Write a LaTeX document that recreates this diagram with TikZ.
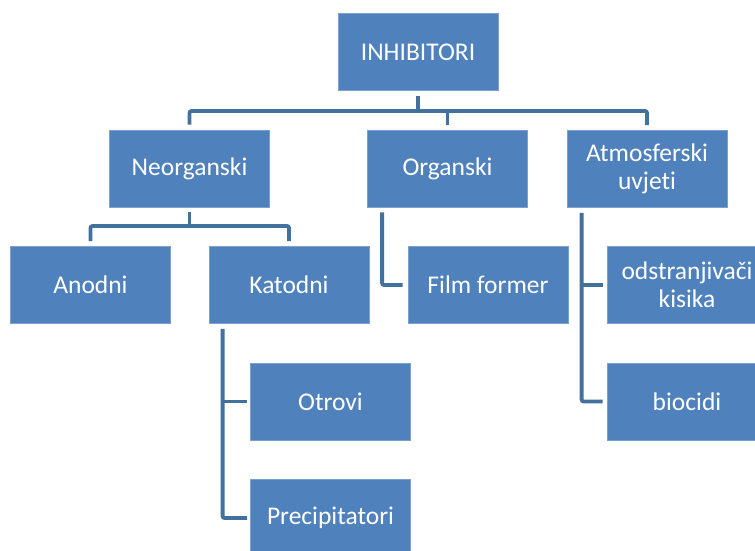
\documentclass[tikz,border=0pt]{standalone}
\usepackage{fontspec}
\setmainfont[Ligatures={NoCommon,TeX}]{Carlito}
\definecolor{boxfill}{HTML}{4F81BD}
\definecolor{boxline}{HTML}{7DA1CF}
\definecolor{connline}{HTML}{41719C}
\begin{document}
\begin{tikzpicture}[x=1pt,y=-1pt,
  box/.style={rectangle, fill=boxfill, draw=boxline, line width=0.8pt,
    minimum width=160pt, minimum height=77pt, text=white, align=center,
    inner sep=2pt, font=\fontsize{25.5}{28}\selectfont},
  conn/.style={draw=connline, line width=3.8pt, rounded corners=2pt}]
\useasboundingbox (0,0) rectangle (755,551);
\clip (0,0) rectangle (755,551);
\node[box] (inh) at (418,52) {INHIBITORI};
\node[box] (neo) at (189.5,168.5) {Neorganski};
\node[box] (org) at (447.5,168.5) {Organski};
\node[box] (atm) at (647,169) {Atmosferski\\uvjeti};
\node[box] (ano) at (90.5,285) {Anodni};
\node[box] (kat) at (289,285) {Katodni};
\node[box] (film) at (488,285) {Film former};
\node[box] (ods) at (687,285) {odstranjivači\\kisika};
\node[box] (otr) at (330.5,401.5) {Otrovi};
\node[box] (bio) at (687,401.5) {biocidi};
\node[box] (pre) at (330.5,518) {Precipitatori};
\coordinate (b0) at (418,111);
\coordinate (b1) at (189.5,226);
% top level
\draw[conn] ([yshift=-5pt]inh.south) -- (b0);
\draw[conn] ([yshift=5pt]neo.north) -- (neo.north |- b0) -- (atm.north |- b0) -- ([yshift=5pt]atm.north);
\draw[conn] ([yshift=5pt]org.north) -- (org.north |- b0);
% Neorganski
\draw[conn] ([yshift=-5pt]neo.south) -- (b1);
\draw[conn] ([yshift=5pt]ano.north) -- (ano.north |- b1) -- (kat.north |- b1) -- ([yshift=5pt]kat.north);
% Katodni
\draw[conn] ([xshift=14pt,yshift=-5pt]kat.south west) -- ([xshift=14pt]kat.south west |- pre.west) -- ([xshift=-3pt]pre.west);
\draw[conn] ([xshift=14pt]kat.south west |- otr.west) -- ([xshift=-3pt]otr.west);
% Organski
\draw[conn] ([xshift=15pt,yshift=-5pt]org.south west) -- ([xshift=15pt]org.south west |- film.west) -- ([xshift=-5pt]film.west);
% Atmosferski
\draw[conn] ([xshift=15pt,yshift=-5pt]atm.south west) -- ([xshift=15pt]atm.south west |- bio.west) -- ([xshift=-4pt]bio.west);
\draw[conn] ([xshift=15pt]atm.south west |- ods.west) -- ([xshift=-4pt]ods.west);
\end{tikzpicture}
\end{document}
